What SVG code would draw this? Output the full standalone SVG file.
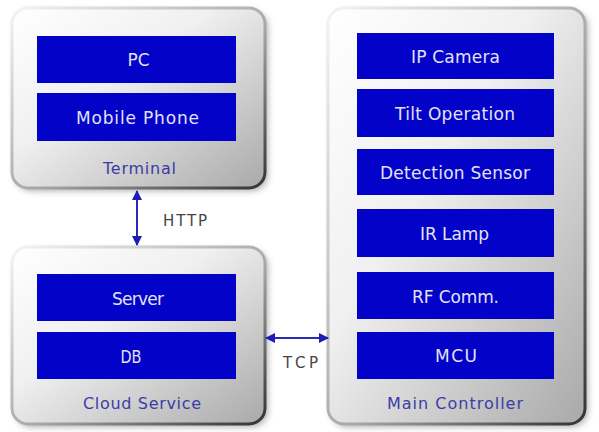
<svg xmlns="http://www.w3.org/2000/svg" width="599" height="432" viewBox="0 0 599 432">
<defs>
<linearGradient id="boxFill" x1="0" y1="0" x2="1" y2="1">
<stop offset="0" stop-color="#ffffff"/>
<stop offset="0.4" stop-color="#f0f0f0"/>
<stop offset="1" stop-color="#a9a9a9"/>
</linearGradient>
<linearGradient id="boxStroke" x1="0" y1="0" x2="1" y2="1">
<stop offset="0" stop-color="#f4f4f4"/>
<stop offset="0.55" stop-color="#a8a8a8"/>
<stop offset="1" stop-color="#333333"/>
</linearGradient>
<filter id="shadow" x="-10%" y="-10%" width="125%" height="125%">
<feGaussianBlur stdDeviation="3"/>
</filter>
<marker id="ah" viewBox="0 0 10 10" refX="9" refY="5" markerWidth="10" markerHeight="10" markerUnits="userSpaceOnUse" orient="auto-start-reverse">
<path d="M0,0 L10,5 L0,10 Z" fill="#1c1cb8"/>
</marker>
</defs>
<style>
.shadow{fill:#666;opacity:0.5;filter:url(#shadow)}
.box{fill:url(#boxFill);stroke:url(#boxStroke);stroke-width:3}
.blk{fill:#0202c8}
.t{font-family:"DejaVu Sans",sans-serif;font-size:17px;fill:#e2e2f4;text-anchor:middle}
.lbl{font-family:"DejaVu Sans",sans-serif;font-size:16px;fill:#3c3ca6;text-anchor:middle}
.proto{font-family:"DejaVu Sans",sans-serif;font-size:15px;fill:#454545;text-anchor:middle}
.conn{stroke:#2a2ab8;stroke-width:2;fill:none;marker-start:url(#ah);marker-end:url(#ah)}
</style>
<rect width="599" height="432" fill="#ffffff"/>

<g id="terminal">
<rect class="shadow" x="15" y="11" width="253" height="180" rx="16"/>
<rect class="box" x="12" y="8" width="253" height="180" rx="16"/>
<rect class="blk" x="37" y="36" width="199" height="47"/>
<text class="t" x="138.5" y="66" textLength="22" lengthAdjust="spacingAndGlyphs">PC</text>
<rect class="blk" x="37" y="93" width="199" height="48"/>
<text class="t" x="137.5" y="124" textLength="123" lengthAdjust="spacing">Mobile Phone</text>
<text class="lbl" x="139.5" y="173.5" textLength="73" lengthAdjust="spacing">Terminal</text>
</g>

<g id="cloud">
<rect class="shadow" x="15" y="250" width="253" height="177" rx="16"/>
<rect class="box" x="12" y="247" width="253" height="177" rx="16"/>
<rect class="blk" x="37" y="274" width="199" height="47"/>
<text class="t" x="138" y="305" textLength="52" lengthAdjust="spacing">Server</text>
<rect class="blk" x="37" y="332" width="199" height="47"/>
<text class="t" x="131" y="363" textLength="21" lengthAdjust="spacingAndGlyphs">DB</text>
<text class="lbl" x="142" y="408.5" textLength="118" lengthAdjust="spacing">Cloud Service</text>
</g>

<g id="main">
<rect class="shadow" x="331" y="11" width="257" height="416" rx="16"/>
<rect class="box" x="328" y="8" width="257" height="416" rx="16"/>
<rect class="blk" x="357" y="33" width="197" height="46"/>
<text class="t" x="455.5" y="63" textLength="89" lengthAdjust="spacing">IP Camera</text>
<rect class="blk" x="357" y="89" width="197" height="48"/>
<text class="t" x="455" y="120" textLength="120" lengthAdjust="spacing">Tilt Operation</text>
<rect class="blk" x="357" y="149" width="197" height="46"/>
<text class="t" x="455" y="179" textLength="150" lengthAdjust="spacing">Detection Sensor</text>
<rect class="blk" x="357" y="209" width="197" height="48"/>
<text class="t" x="454.5" y="240" textLength="69" lengthAdjust="spacing">IR Lamp</text>
<rect class="blk" x="357" y="272" width="197" height="47"/>
<text class="t" x="455.5" y="303" textLength="87" lengthAdjust="spacing">RF Comm.</text>
<rect class="blk" x="357" y="332" width="197" height="47"/>
<text class="t" x="456" y="362" textLength="42" lengthAdjust="spacing">MCU</text>
<text class="lbl" x="455" y="408.5" textLength="136" lengthAdjust="spacing">Main Controller</text>
</g>

<g id="connectors">
<line class="conn" x1="137" y1="191" x2="137" y2="245"/>
<text class="proto" x="185" y="226" textLength="44" lengthAdjust="spacing">HTTP</text>
<line class="conn" x1="266" y1="338" x2="328" y2="338"/>
<text class="proto" x="300.5" y="368" textLength="35" lengthAdjust="spacing">TCP</text>
</g>
</svg>
